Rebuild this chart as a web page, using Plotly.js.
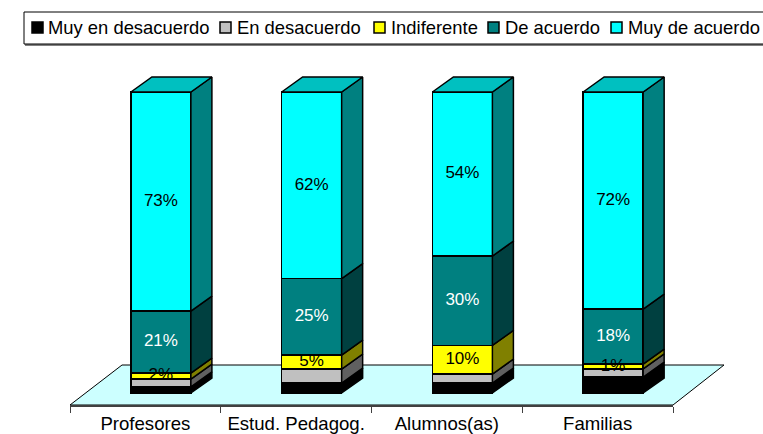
<!DOCTYPE html>
<html><head><meta charset="utf-8">
<script src="https://cdn.plot.ly/plotly-3.0.1.min.js"></script>
<style>html,body{margin:0;padding:0;background:#fff}#c{width:763px;height:434px}</style>
</head><body><div id="c"></div>
<script>
const categories = ['Profesores','Estud. Pedagog.','Alumnos(as)','Familias'];
const seriesNames = ['Muy en desacuerdo','En desacuerdo','Indiferente','De acuerdo','Muy de acuerdo'];
const muyEnDesacuerdo = [2, 3.3, 3.3, 5.3];
const enDesacuerdo = [2.6, 4.6, 3, 2.7];
const indiferente = [2, 4.7, 9.5, 1.6];
const deAcuerdo = [20.6, 25.4, 29.7, 18.3];
const muyDeAcuerdo = [72.8, 62, 54.5, 72.1];
const labelsIndiferente = ['2%','5%','10%','1%'];
const labelsDeAcuerdo = ['21%','25%','30%','18%'];
const labelsMuyDeAcuerdo = ['73%','62%','54%','72%'];
const frontColors = ['#000000','#c0c0c0','#ffff00','#008080','#00ffff'];
const sideColors = ['#000000','#606060','#808000','#004040','#008080'];
const topColor = '#00c0c0';

const series = [muyEnDesacuerdo,enDesacuerdo,indiferente,deAcuerdo,muyDeAcuerdo];
const FONT = '"Liberation Sans", Arial, sans-serif';
const L=70,R=673,T=60,B=405;
const px = p => (p-L)/(R-L), py = p => (B-p)/(B-T);
const barShift = 0.103, barW = 0.398, depthX = 21/150.75, depthY = 15/3.01;

const traces = [];
series.forEach((vals,s)=>{
  traces.push({type:'bar',name:seriesNames[s],x:[0,1,2,3],y:vals,width:barW,offset:barShift-barW/2,
    marker:{color:frontColors[s],line:{color:'#000',width:1.5}},showlegend:false,hoverinfo:'skip'});
});
const bases = categories.map((_,i)=>0);
series.forEach((vals,s)=>{
  const xs=[],ys=[];
  vals.forEach((v,i)=>{
    const y0=bases[i],y1=y0+v,xr=i+barShift+barW/2;
    xs.push(xr,xr+depthX,xr+depthX,xr,xr,null);
    ys.push(y0,y0+depthY,y1+depthY,y1,y0,null);
    bases[i]=y1;
  });
  traces.push({type:'scatter',mode:'lines',x:xs,y:ys,fill:'toself',fillcolor:sideColors[s],
    line:{color:'#000',width:1.5},showlegend:false,hoverinfo:'skip',cliponaxis:false});
});
const tx=[],ty=[];
bases.forEach((top,i)=>{
  const xl=i+barShift-barW/2,xr=xl+barW;
  tx.push(xl,xl+depthX,xr+depthX,xr,xl,null);
  ty.push(top,top+depthY,top+depthY,top,top,null);
});
traces.push({type:'scatter',mode:'lines',x:tx,y:ty,fill:'toself',fillcolor:topColor,
  line:{color:'#000',width:1.5},showlegend:false,hoverinfo:'skip',cliponaxis:false});
function labelTrace(idx,labels,color){
  const ys=categories.map((_,i)=>{
    let b=0;for(let s=0;s<idx;s++)b+=series[s][i];
    return b+series[idx][i]/2;
  });
  traces.push({type:'scatter',mode:'text',x:[0,1,2,3].map(i=>i+barShift),y:ys,text:labels,
    textposition:'middle center',textfont:{family:FONT,size:17,color:color},showlegend:false,hoverinfo:'skip',cliponaxis:false});
}
labelTrace(2,labelsIndiferente,'#000');
labelTrace(3,labelsDeAcuerdo,'#fff');
labelTrace(4,labelsMuyDeAcuerdo,'#000');

const shapes=[{type:'path',xref:'paper',yref:'paper',layer:'below',
  path:`M ${px(70)} ${py(405)} L ${px(122)} ${py(365)} L ${px(724)} ${py(365)} L ${px(673)} ${py(405)} Z`,
  fillcolor:'#ccffff',line:{color:'#000',width:1}},
  {type:'rect',xref:'paper',yref:'paper',x0:px(25),x1:px(790),y0:py(46),y1:py(13),fillcolor:'#808080',line:{width:0},layer:'below'},
  {type:'rect',xref:'paper',yref:'paper',x0:px(24),x1:px(790),y0:py(44),y1:py(12),fillcolor:'#fff',line:{color:'#000',width:1},layer:'below'}];
const swatchX=[32,220,374,488,611], textX=[48,237,391,505,628];
const annotations=[];
seriesNames.forEach((n,s)=>{
  shapes.push({type:'rect',xref:'paper',yref:'paper',x0:px(swatchX[s]),x1:px(swatchX[s]+11),y0:py(33),y1:py(22),
    fillcolor:frontColors[s],line:{color:'#000',width:1.5}});
  annotations.push({xref:'paper',yref:'paper',x:px(textX[s]),y:py(27.5),xanchor:'left',yanchor:'middle',showarrow:false,
    text:n,font:{family:FONT,size:18.4,color:'#000'},xshift:-2});
});
const layout={width:763,height:434,margin:{l:L,r:763-R,t:T,b:434-B,pad:0},
  paper_bgcolor:'#fff',plot_bgcolor:'rgba(0,0,0,0)',barmode:'stack',showlegend:false,
  xaxis:{type:'linear',range:[-0.5,3.5],tickmode:'array',tickvals:[0,1,2,3],ticktext:categories,
    tickfont:{family:FONT,size:18.6,color:'#000'},showgrid:false,zeroline:false,showline:true,linecolor:'#404040',linewidth:2,
    ticks:'',ticklabelstandoff:1,
    minor:{tickmode:'array',tickvals:[-0.5,0.5,1.5,2.5,3.5],ticks:'outside',ticklen:6,tickcolor:'#404040',tickwidth:1,showgrid:false}},
  yaxis:{visible:false,range:[(393-405)/3.01,(393-60)/3.01],fixedrange:true},
  shapes,annotations};
Plotly.newPlot('c',traces,layout,{displayModeBar:false,staticPlot:true});
</script></body></html>
